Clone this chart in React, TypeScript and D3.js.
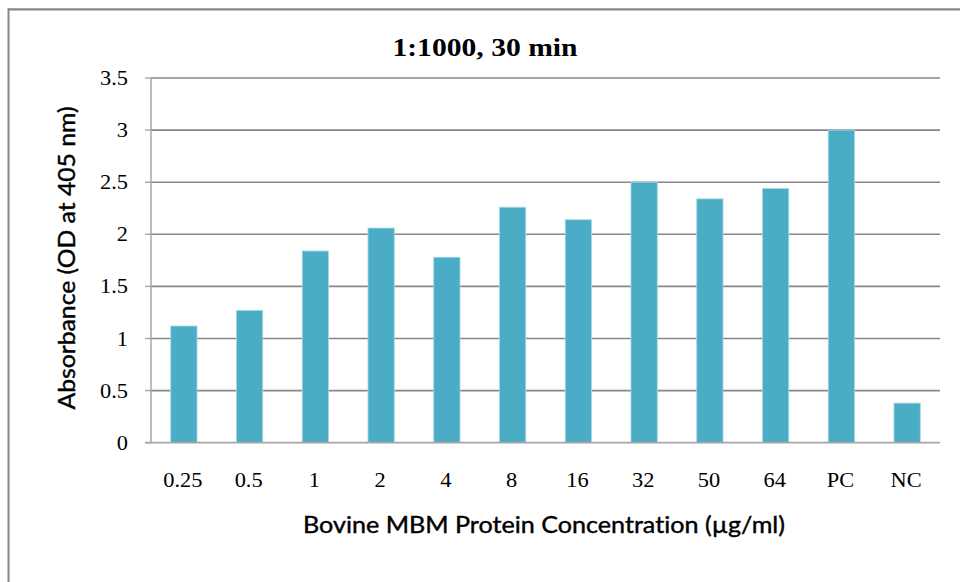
import React from "react";
import * as d3 from "d3";

const categories: string[] = ["0.25", "0.5", "1", "2", "4", "8", "16", "32", "50", "64", "PC", "NC"];
const absorbance: number[] = [1.12, 1.27, 1.84, 2.06, 1.78, 2.26, 2.14, 2.5, 2.34, 2.44, 3.0, 0.38];
const yTicks: number[] = [0, 0.5, 1, 1.5, 2, 2.5, 3, 3.5];
const yTickLabels: string[] = ["0", "0.5", "1", "1.5", "2", "2.5", "3", "3.5"];
const chartTitle = "1:1000, 30 min";
const xTitle = "Bovine MBM Protein Concentration (\u00b5g/ml)";
const yTitle = "Absorbance (OD at 405 nm)";

const W = 960;
const H = 582;
const left = 151;
const right = 940;
const top = 78;
const bottom = 442.7;
const serif = "'Liberation Serif', 'Times New Roman', serif";
const sans = "Lato, 'Open Sans', 'Liberation Sans', sans-serif";
const stretch = 1.12;
const noLig = { fontVariantLigatures: "none" as const, fontFeatureSettings: "'liga' 0" };

export default function App() {
  const x = d3.scaleBand<string>().domain(categories).range([left, right]).paddingInner(0.6).paddingOuter(0.3);
  const y = d3.scaleLinear().domain([0, 3.5]).range([bottom, top]);

  return (
    <svg
      width={W}
      height={H}
      viewBox={`0 0 ${W} ${H}`}
      style={{ position: "absolute", left: 0, top: 0, display: "block", background: "#ffffff" }}
    >
      <rect x={0} y={0} width={W} height={H} fill="#ffffff" />
      {/* outer chart border (top and left visible) */}
      <line x1={8.5} y1={9.3} x2={W} y2={9.3} stroke="#868686" strokeWidth={2.2} />
      <line x1={8.5} y1={8.2} x2={8.5} y2={H} stroke="#868686" strokeWidth={2} />

      {/* gridlines */}
      {yTicks.map((t) =>
        t === 0 ? null : (
          <line key={`g${t}`} x1={left} x2={right} y1={y(t)} y2={y(t)} stroke="#878787" strokeWidth={1.6} />
        )
      )}

      {/* bars */}
      {categories.map((c, i) => (
        <rect
          key={c}
          x={x(c)!}
          y={y(absorbance[i])}
          width={x.bandwidth()}
          height={y(0) - y(absorbance[i])}
          fill="#4BACC6"
          stroke="#a9d9e7"
          strokeWidth={0.8}
        />
      ))}

      {/* y axis */}
      <line x1={left} x2={left} y1={top} y2={bottom} stroke="#a6a6a6" strokeWidth={1.5} />
      {yTicks.map((t) => (
        <line key={`t${t}`} x1={left - 6} x2={left} y1={y(t)} y2={y(t)} stroke="#a6a6a6" strokeWidth={1.4} />
      ))}
      {/* x axis baseline */}
      <line x1={left - 6} x2={right} y1={bottom} y2={bottom} stroke="#a6a6a6" strokeWidth={1.8} />

      {/* y tick labels */}
      {yTicks.map((t, i) => (
        <text
          key={`yl${t}`}
          transform={`translate(128,${y(t) + 7}) scale(${stretch},1)`}
          textAnchor="end"
          fontFamily={serif}
          fontSize={20}
          fill="#000"
        >
          {yTickLabels[i]}
        </text>
      ))}

      {/* x tick labels */}
      {categories.map((c) => (
        <text
          key={`xl${c}`}
          transform={`translate(${x(c)! + x.bandwidth() / 2 - 1},486.7) scale(${stretch},1)`}
          textAnchor="middle"
          fontFamily={serif}
          fontSize={20}
          fill="#000"
        >
          {c}
        </text>
      ))}

      {/* chart title */}
      <text
        transform={`translate(485,56) scale(${stretch + 0.02},1)`}
        textAnchor="middle"
        fontFamily={serif}
        fontWeight="bold"
        fontSize={26}
        fill="#000"
      >
        {chartTitle}
      </text>

      {/* x axis title */}
      <text
        x={544}
        y={533.3}
        textAnchor="middle"
        fontFamily={sans}
        fontSize={23}
        textLength={482}
        lengthAdjust="spacingAndGlyphs"
        fill="#000"
        stroke="#000"
        strokeWidth={0.4}
        style={noLig}
      >
        {xTitle}
      </text>

      {/* y axis title */}
      <text
        transform={`translate(75,258) rotate(-90)`}
        textAnchor="middle"
        fontFamily={sans}
        fontSize={23}
        textLength={303}
        lengthAdjust="spacingAndGlyphs"
        fill="#000"
        stroke="#000"
        strokeWidth={0.4}
        style={noLig}
      >
        {yTitle}
      </text>
    </svg>
  );
}
